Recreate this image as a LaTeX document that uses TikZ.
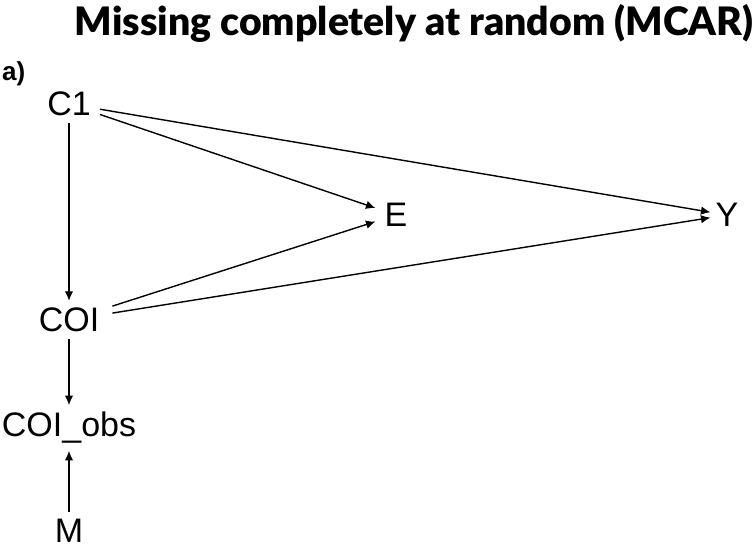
\documentclass[tikz,border=0pt]{standalone}
\usepackage{fontspec}
\setmainfont{Liberation Sans}
\newfontfamily\titlefont{Lato Black}
\usetikzlibrary{arrows.meta}
\begin{document}
\begin{tikzpicture}[x=1pt,y=-1pt,
  var/.style={font=\fontsize{34}{38}\selectfont, inner xsep=9pt, inner ysep=7pt},
  edge/.style={draw, line width=1.4pt, -{Latex[length=9.5pt,width=8.5pt]}}]
\useasboundingbox (0,0) rectangle (752,552);
\node[anchor=base, inner sep=0pt, font=\titlefont\fontsize{39.2}{43}\selectfont] (title) at (414,35) {Missing completely at random (MCAR)};
\node[anchor=base west, inner sep=0pt, font=\bfseries\fontsize{26}{30}\selectfont] (lab) at (2,80) {a)};
\node[var] (C1) at (69,104) {C1};
\node[var] (E) at (396,215) {E};
\node[var, inner xsep=5pt] (Y) at (727,215) {Y};
\node[var, inner xsep=13pt] (COI) at (69,320) {COI};
\node[var] (COIobs) at (69,428) {COI\_obs};
\node[var] (M) at (69,531) {M};
\draw[edge] (C1) -- (E);
\draw[edge] (C1) -- (Y);
\draw[edge] (C1) -- (COI);
\draw[edge] (COI) -- (E);
\draw[edge] (COI) -- (Y);
\draw[edge] (COI) -- (COIobs);
\draw[edge] (M) -- (COIobs);
\end{tikzpicture}
\end{document}
